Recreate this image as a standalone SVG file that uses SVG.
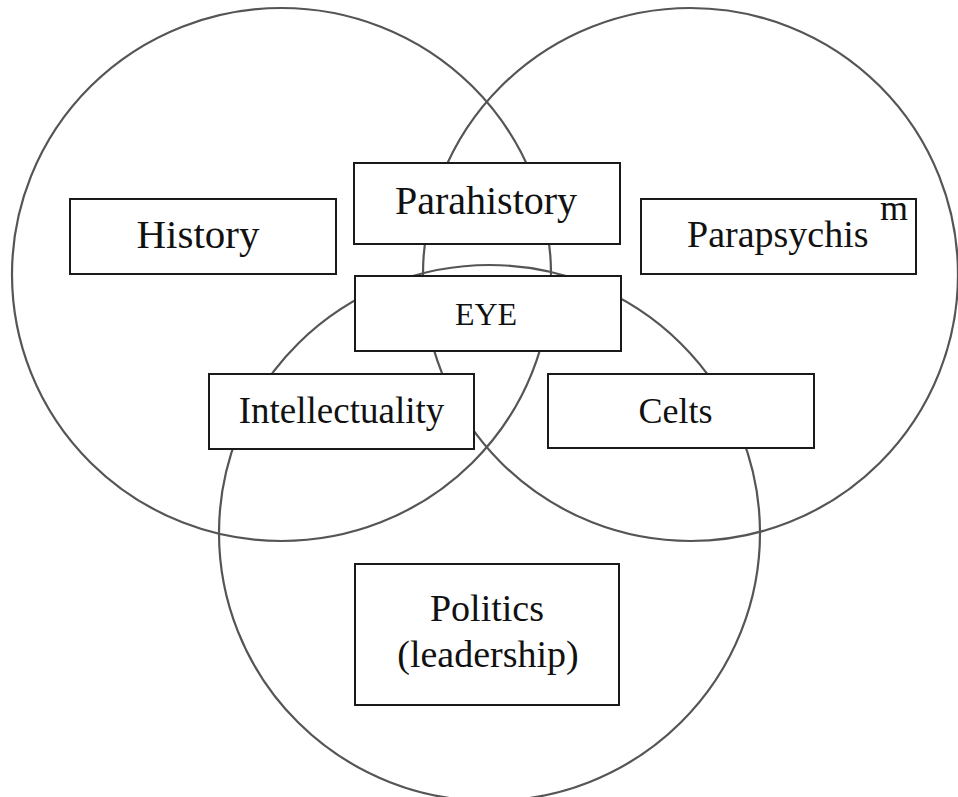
<svg xmlns="http://www.w3.org/2000/svg" width="958" height="797" viewBox="0 0 958 797">
<style>
.circ{fill:none;stroke:#555;stroke-width:2.2}
.box{fill:#fff;stroke:#1a1a1a;stroke-width:2}
text{font-family:"Liberation Serif","Times New Roman",serif;fill:#111}
.c{text-anchor:middle}
</style>
<rect width="958" height="797" fill="#fff"/>
<g id="sets">
<ellipse id="set-left" class="circ" cx="281.5" cy="274.5" rx="269.5" ry="266.5"/>
<ellipse id="set-right" class="circ" cx="690.5" cy="274.5" rx="267.5" ry="266.5"/>
<ellipse id="set-bottom" class="circ" cx="489.5" cy="533" rx="270.5" ry="268"/>
</g>
<g id="connectors"></g>
<g id="history"><rect class="box" x="70" y="199" width="266" height="75"/><text class="c" x="198" y="248" font-size="41">History</text></g>
<g id="parahistory"><rect class="box" x="354" y="163" width="266" height="81"/><text class="c" x="486" y="214" font-size="40">Parahistory</text></g>
<g id="parapsychism"><rect class="box" x="641" y="199" width="275" height="75"/><text x="687" y="247" font-size="38">Parapsychis</text><text x="880" y="220" font-size="36">m</text></g>
<g id="eye"><rect class="box" x="355" y="276" width="266" height="75"/><text class="c" x="486" y="325" font-size="32">EYE</text></g>
<g id="intellectuality"><rect class="box" x="209" y="374" width="265" height="75"/><text class="c" x="341.5" y="423" font-size="37">Intellectuality</text></g>
<g id="celts"><rect class="box" x="548" y="374" width="266" height="74"/><text class="c" x="675.5" y="423" font-size="36">Celts</text></g>
<g id="politics"><rect class="box" x="355" y="564" width="264" height="141"/><text class="c" x="487" y="621" font-size="38">Politics</text><text class="c" x="488" y="667" font-size="38">(leadership)</text></g>
</svg>
